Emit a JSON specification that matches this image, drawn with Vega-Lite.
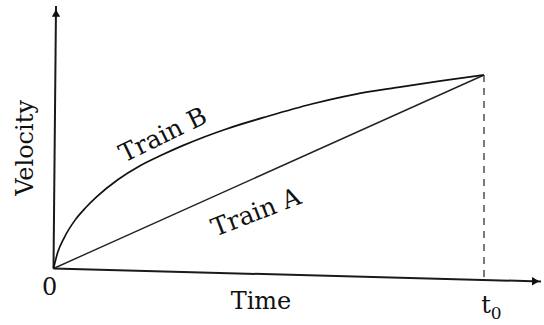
{
  "$schema": "https://vega.github.io/schema/vega-lite/v6.json",
  "width": 544,
  "height": 325,
  "autosize": {"type": "fit", "contains": "padding"},
  "padding": 0,
  "background": "white",
  "config": {"view": {"stroke": null}},
  "datasets": {
    "axes": [
      {"name": "x-axis", "t": 0, "v": 0, "t2": 11.324, "v2": -0.672},
      {"name": "y-axis", "t": 0, "v": 0, "t2": 0.058, "v2": 13.566}
    ],
    "drop": [
      {"t": 10, "v": 10, "t2": 10, "v2": -0.593}
    ],
    "trainA": [
      {"t": 0, "v": 0},
      {"t": 10, "v": 10}
    ],
    "trainB": [
      {"t": 0, "v": 0},
      {"t": 0.1, "v": 0.85},
      {"t": 0.25, "v": 1.6},
      {"t": 0.5, "v": 2.5},
      {"t": 0.75, "v": 3.15},
      {"t": 1.0, "v": 3.7},
      {"t": 1.5, "v": 4.6},
      {"t": 2.0, "v": 5.3},
      {"t": 2.5, "v": 5.85},
      {"t": 3.0, "v": 6.35},
      {"t": 3.5, "v": 6.8},
      {"t": 4.0, "v": 7.2},
      {"t": 5.0, "v": 7.88},
      {"t": 6.0, "v": 8.5},
      {"t": 7.0, "v": 9.0},
      {"t": 8.0, "v": 9.36},
      {"t": 9.0, "v": 9.7},
      {"t": 10, "v": 10}
    ],
    "arrows": [
      {"dir": "up", "t": 0.058, "v": 13.2},
      {"dir": "right", "t": 11.2, "v": -0.66}
    ],
    "labels": [
      {"label": "0", "t": -0.09, "v": -1.0},
      {"label": "Time", "t": 4.82, "v": -1.75},
      {"label": "t", "t": 10.05, "v": -1.95}
    ],
    "sub": [{"label": "0", "t": 10.28, "v": -2.35}],
    "velocity": [{"label": "Velocity", "t": -0.64, "v": 6.23}],
    "labelB": [{"label": "Train B", "t": 2.543, "v": 6.9}],
    "labelA": [{"label": "Train A", "t": 4.704, "v": 2.9}]
  },
  "encoding": {
    "x": {"field": "t", "type": "quantitative", "scale": {"domain": [-1.243, 11.394], "nice": false, "zero": false}, "axis": null},
    "y": {"field": "v", "type": "quantitative", "scale": {"domain": [-2.92, 13.876], "nice": false, "zero": false}, "axis": null}
  },
  "layer": [
    {
      "data": {"name": "axes"},
      "mark": {"type": "rule", "color": "#1a1a1a", "strokeWidth": 2},
      "encoding": {"x2": {"field": "t2"}, "y2": {"field": "v2"}}
    },
    {
      "data": {"name": "drop"},
      "mark": {"type": "rule", "color": "#333", "strokeWidth": 1.3, "strokeDash": [7, 6]},
      "encoding": {"x2": {"field": "t2"}, "y2": {"field": "v2"}}
    },
    {
      "data": {"name": "trainA"},
      "mark": {"type": "line", "color": "#222", "strokeWidth": 1.4},
      "encoding": {}
    },
    {
      "data": {"name": "trainB"},
      "mark": {"type": "line", "color": "#111", "strokeWidth": 1.7, "interpolate": "monotone"},
      "encoding": {}
    },
    {
      "data": {"name": "arrows"},
      "mark": {"type": "point", "filled": true, "color": "#111", "opacity": 1, "size": 70},
      "encoding": {
        "shape": {"field": "dir", "type": "nominal", "scale": {"domain": ["up", "right"], "range": ["triangle-up", "triangle-right"]}, "legend": null}
      }
    },
    {
      "data": {"name": "labels"},
      "mark": {"type": "text", "font": "DejaVu Serif", "fontSize": 24, "color": "#111", "align": "center", "baseline": "middle"},
      "encoding": {"text": {"field": "label"}}
    },
    {
      "data": {"name": "sub"},
      "mark": {"type": "text", "font": "DejaVu Serif", "fontSize": 17, "color": "#111", "align": "center", "baseline": "middle"},
      "encoding": {"text": {"field": "label"}}
    },
    {
      "data": {"name": "velocity"},
      "mark": {"type": "text", "font": "DejaVu Serif", "fontSize": 24, "color": "#111", "align": "center", "baseline": "middle", "angle": 270},
      "encoding": {"text": {"field": "label"}}
    },
    {
      "data": {"name": "labelB"},
      "mark": {"type": "text", "font": "DejaVu Serif", "fontSize": 25, "color": "#111", "align": "center", "baseline": "middle", "angle": 334},
      "encoding": {"text": {"field": "label"}}
    },
    {
      "data": {"name": "labelA"},
      "mark": {"type": "text", "font": "DejaVu Serif", "fontSize": 25, "color": "#111", "align": "center", "baseline": "middle", "angle": 339},
      "encoding": {"text": {"field": "label"}}
    }
  ]
}
